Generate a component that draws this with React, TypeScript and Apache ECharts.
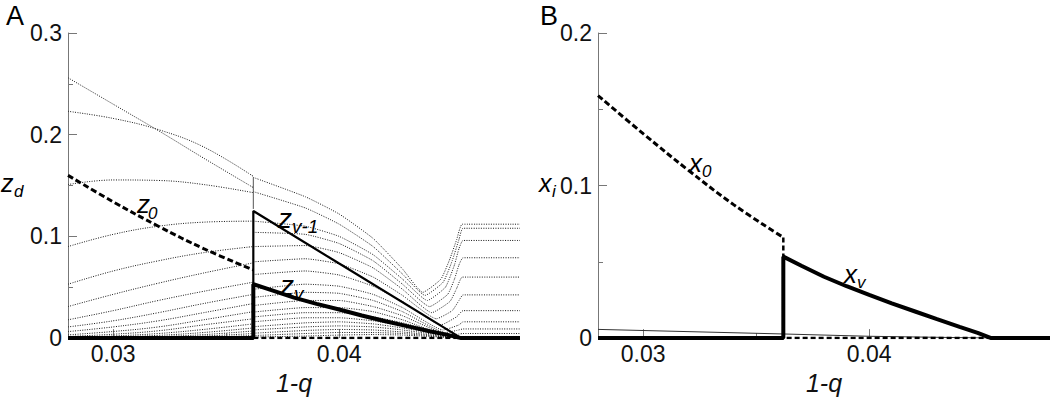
import React, { useEffect, useRef } from "react";
import * as echarts from "echarts";

const FONT = "'Liberation Sans', Arial, Helvetica, sans-serif";

// axes
const qMin = 0.028;
const qMax = 0.048;
const xMajorTicks = [0.03, 0.04];
const xMinorTicks = [0.035, 0.045];
const yMaxA = 0.3;
const yMaxB = 0.2;

// ---------- Panel A ----------
// left of the jump (1-q = 0.0362): dotted classes z_d
const leftQ = [0.028, 0.03, 0.032, 0.034, 0.0362];
const leftCurves = [
  [0.256, 0.23, 0.204, 0.177, 0.148],
  [0.223, 0.216, 0.205, 0.188, 0.159],
  [0.151, 0.1555, 0.155, 0.151, 0.143],
  [0.09, 0.102, 0.11, 0.114, 0.115],
  [0.053, 0.066, 0.076, 0.084, 0.09],
  [0.031, 0.043, 0.054, 0.064, 0.074],
  [0.018, 0.027, 0.037, 0.046, 0.055],
  [0.011, 0.017, 0.025, 0.034, 0.043],
  [0.0064, 0.011, 0.017, 0.025, 0.034],
  [0.0032, 0.0065, 0.011, 0.018, 0.026],
  [0.0016, 0.0038, 0.0072, 0.013, 0.019],
  [0.0008, 0.0021, 0.0045, 0.0085, 0.014],
  [0.0003, 0.0011, 0.0027, 0.0055, 0.01],
  [0.0001, 0.0005, 0.0015, 0.0034, 0.007],
  [0, 0.0002, 0.0008, 0.002, 0.0045],
  [0, 0.0001, 0.0004, 0.001, 0.0025],
];

// right of the jump: dotted classes z_d as [1-q, z] pairs
const rightCurves = [
  [[0.0362, 0.158], [0.0385, 0.139], [0.04, 0.122], [0.0415, 0.098], [0.0428, 0.068], [0.0437, 0.045], [0.0445, 0.058], [0.0449, 0.078], [0.0452, 0.097], [0.04545, 0.112], [0.048, 0.112]],
  [[0.0362, 0.144], [0.0385, 0.128], [0.04, 0.112], [0.0415, 0.09], [0.0428, 0.063], [0.0438, 0.042], [0.0446, 0.055], [0.045, 0.076], [0.0453, 0.097], [0.04548, 0.108], [0.048, 0.108]],
  [[0.0362, 0.115], [0.0385, 0.11], [0.04, 0.1], [0.0415, 0.082], [0.0428, 0.058], [0.0439, 0.037], [0.0447, 0.05], [0.0451, 0.072], [0.0453, 0.088], [0.04548, 0.096], [0.048, 0.096]],
  [[0.0362, 0.104], [0.0385, 0.102], [0.04, 0.093], [0.0415, 0.076], [0.0428, 0.053], [0.044, 0.031], [0.0448, 0.043], [0.0451, 0.058], [0.0453, 0.072], [0.04548, 0.079], [0.048, 0.079]],
  [[0.0362, 0.09], [0.0385, 0.091], [0.04, 0.084], [0.0415, 0.069], [0.0428, 0.048], [0.0441, 0.025], [0.0449, 0.036], [0.0452, 0.049], [0.04545, 0.06], [0.048, 0.06]],
  [[0.0362, 0.075], [0.0385, 0.078], [0.04, 0.073], [0.0415, 0.06], [0.0428, 0.042], [0.0443, 0.019], [0.045, 0.027], [0.0453, 0.037], [0.04548, 0.0425], [0.048, 0.0425]],
  [[0.0362, 0.0625], [0.0385, 0.066], [0.04, 0.062], [0.0415, 0.051], [0.0428, 0.036], [0.0445, 0.013], [0.0452, 0.021], [0.04548, 0.027], [0.048, 0.027]],
  [[0.0362, 0.048], [0.0385, 0.053], [0.04, 0.051], [0.0415, 0.043], [0.0428, 0.03], [0.0446, 0.008], [0.0453, 0.013], [0.04548, 0.016], [0.048, 0.016]],
  [[0.0362, 0.04], [0.0385, 0.045], [0.04, 0.044], [0.0415, 0.037], [0.0428, 0.026], [0.0447, 0.0055], [0.0452, 0.0075], [0.04548, 0.009], [0.048, 0.009]],
  [[0.0362, 0.032], [0.0385, 0.037], [0.04, 0.037], [0.0415, 0.031], [0.0428, 0.022], [0.0449, 0.003], [0.0453, 0.004], [0.04548, 0.0045], [0.048, 0.0045]],
  [[0.0362, 0.0256], [0.0385, 0.03], [0.04, 0.03], [0.0415, 0.026], [0.0428, 0.018], [0.045, 0.0015], [0.04548, 0.0016], [0.048, 0.0016]],
  [[0.0362, 0.0208], [0.0385, 0.025], [0.04, 0.025], [0.0415, 0.021], [0.0428, 0.015], [0.0454, 0]],
  [[0.0362, 0.016], [0.0385, 0.02], [0.04, 0.02], [0.0415, 0.017], [0.0428, 0.012], [0.0454, 0]],
  [[0.0362, 0.0112], [0.0385, 0.015], [0.04, 0.016], [0.0415, 0.014], [0.0428, 0.01], [0.0454, 0]],
  [[0.0362, 0.008], [0.0385, 0.011], [0.04, 0.012], [0.0415, 0.011], [0.0428, 0.008], [0.0454, 0]],
  [[0.0362, 0.0048], [0.0385, 0.0075], [0.04, 0.0085], [0.0415, 0.008], [0.0428, 0.006], [0.0454, 0]],
  [[0.0362, 0.0025], [0.0385, 0.0045], [0.04, 0.0055], [0.0415, 0.0055], [0.0428, 0.0045], [0.0454, 0]],
  [[0.0362, 0.001], [0.0385, 0.002], [0.04, 0.003], [0.0415, 0.0035], [0.0428, 0.003], [0.0454, 0]],
];

const jumpSegment = [[0.0362, 0.127], [0.0362, 0.158]];

const z0Q = [0.028, 0.03, 0.032, 0.034, 0.0362];
const z0Vals = [0.16, 0.134, 0.11, 0.088, 0.067];
const z0Zero = [[0.0362, 0], [0.0454, 0]];

const zvm1 = [[0.0362, 0.053], [0.0362, 0.125], [0.04, 0.0733], [0.0454, 0]];

const zv = [
  [0.028, 0], [0.0362, 0], [0.0362, 0.053], [0.037, 0.0472], [0.038, 0.0398],
  [0.039, 0.0337], [0.04, 0.0281], [0.041, 0.0222], [0.042, 0.0168], [0.043, 0.0118],
  [0.044, 0.0068], [0.0448, 0.0032], [0.0454, 0], [0.048, 0],
];

// ---------- Panel B ----------
const x0Q = [0.028, 0.03, 0.032, 0.034, 0.0362];
const x0Vals = [0.159, 0.134, 0.11, 0.0875, 0.066];
const x0Drop = [[0.0362, 0.066], [0.0362, 0], [0.0454, 0]];

const xv = [
  [0.028, 0], [0.0362, 0], [0.0362, 0.0534], [0.037, 0.0474], [0.038, 0.0402],
  [0.039, 0.034], [0.04, 0.0283], [0.041, 0.0228], [0.042, 0.0176], [0.043, 0.0124],
  [0.044, 0.0073], [0.0448, 0.0034], [0.0454, 0], [0.048, 0],
];

const thinB = [[0.028, 0.0057], [0.0362, 0.0027], [0.04, 0.0012], [0.0454, 0], [0.048, 0]];

function fmt(v: number) {
  return String(+v.toFixed(3));
}

function lineSeries(data: any[], xi: number, yi: number, width: number, color: string, type: any, smooth: any) {
  return {
    type: "line",
    xAxisIndex: xi,
    yAxisIndex: yi,
    data,
    symbol: "none",
    silent: true,
    smooth,
    lineStyle: { width, color, type },
    clip: true,
  };
}

function txt(text: string, x: number, baseline: number, size: number, italic = true) {
  return {
    type: "text",
    x,
    y: baseline - 0.3465 * size,
    silent: true,
    style: {
      text,
      fill: "#000",
      fontSize: size,
      fontFamily: FONT,
      fontStyle: italic ? "italic" : "normal",
      align: "left",
      verticalAlign: "middle",
    },
  };
}

function xAxes(grid: number) {
  return [
    {
      type: "value",
      gridIndex: grid,
      position: "bottom",
      min: qMin,
      max: qMax,
      axisLine: { show: false },
      splitLine: { show: false },
      axisTick: { show: true, inside: true, length: 9, customValues: xMajorTicks, lineStyle: { color: "#777", width: 1 } },
      axisLabel: { show: true, customValues: xMajorTicks, formatter: fmt, margin: 4, fontSize: 23, color: "#111", fontFamily: FONT },
      name: "1-q",
      nameLocation: "middle",
      nameGap: 37,
      nameTextStyle: { fontSize: 25, fontStyle: "italic", color: "#111", fontFamily: FONT, verticalAlign: "middle" },
    },
    {
      type: "value",
      gridIndex: grid,
      position: "bottom",
      min: qMin,
      max: qMax,
      axisLine: { show: false },
      splitLine: { show: false },
      axisTick: { show: true, inside: true, length: 5, customValues: xMinorTicks, lineStyle: { color: "#777", width: 1 } },
      axisLabel: { show: false },
    },
  ];
}

function yAxis(grid: number, max: number) {
  return {
    type: "value",
    gridIndex: grid,
    min: 0,
    max,
    interval: 0.1,
    axisLine: { show: true, lineStyle: { color: "#777", width: 1 } },
    axisTick: { show: true, inside: true, length: 9, lineStyle: { color: "#777" } },
    minorTick: { show: true, splitNumber: 2, length: 5, lineStyle: { color: "#777" } },
    splitLine: { show: false },
    minorSplitLine: { show: false },
    axisLabel: { formatter: fmt, margin: 6, fontSize: 23, color: "#111", fontFamily: FONT },
  };
}

export default function App() {
  const ref = useRef<HTMLDivElement>(null);
  useEffect(() => {
    if (!ref.current) return;
    const chart = echarts.init(ref.current, null, { renderer: "svg" });
    const DOT = "#1a1a1a";
    const dotType = [1, 1.4];
    const series: any[] = [];
    leftCurves.forEach((c) => {
      series.push(lineSeries(c.map((v, i) => [leftQ[i], v]), 0, 0, 1, DOT, dotType, 0.4));
    });
    rightCurves.forEach((c) => {
      series.push(lineSeries(c, 0, 0, 1, DOT, dotType, 0.15));
    });
    series.push(lineSeries(jumpSegment, 0, 0, 1, "#555", "solid", false));
    series.push(lineSeries(z0Q.map((q, i) => [q, z0Vals[i]]), 0, 0, 3, "#000", [6, 3], 0.4));
    series.push(lineSeries(z0Zero, 0, 0, 2.5, "#000", [5, 3], false));
    series.push(lineSeries(zvm1, 0, 0, 2.2, "#000", "solid", false));
    series.push(lineSeries(zv, 0, 0, 4, "#000", "solid", false));

    series.push(lineSeries(thinB, 2, 1, 1, "#333", "solid", false));
    series.push(lineSeries(x0Q.map((q, i) => [q, x0Vals[i]]), 2, 1, 3, "#000", [6, 3], 0.4));
    series.push(lineSeries(x0Drop, 2, 1, 2.5, "#000", [5, 3], false));
    series.push(lineSeries(xv, 2, 1, 4, "#000", "solid", false));

    chart.setOption({
      animation: false,
      backgroundColor: "#fff",
      grid: [
        { left: 68, top: 33, width: 452, height: 312, containLabel: false },
        { left: 598, top: 33, width: 452, height: 312, containLabel: false },
      ],
      xAxis: [...xAxes(0), ...xAxes(1)],
      yAxis: [yAxis(0, yMaxA), yAxis(1, yMaxB)],
      series,
      graphic: [
        txt("A", 6, 25, 27, false),
        txt("B", 540, 25, 27, false),
        txt("z", 1, 192, 25),
        txt("d", 14, 197, 17),
        txt("z", 137, 213, 26),
        txt("0", 148, 219, 17),
        txt("z", 278, 228, 28),
        txt("v-1", 292, 233, 19),
        txt("z", 280, 295, 28),
        txt("v", 294, 300, 19),
        txt("x", 539, 192, 25),
        txt("i", 552, 197, 17),
        txt("x", 689, 172, 26),
        txt("0", 702, 177, 17),
        txt("x", 844, 283, 26),
        txt("v", 857, 288, 17),
      ],
    });
    return () => chart.dispose();
  }, []);
  return <div ref={ref} style={{ position: "absolute", left: 0, top: 0, width: 1050, height: 400 }} />;
}
